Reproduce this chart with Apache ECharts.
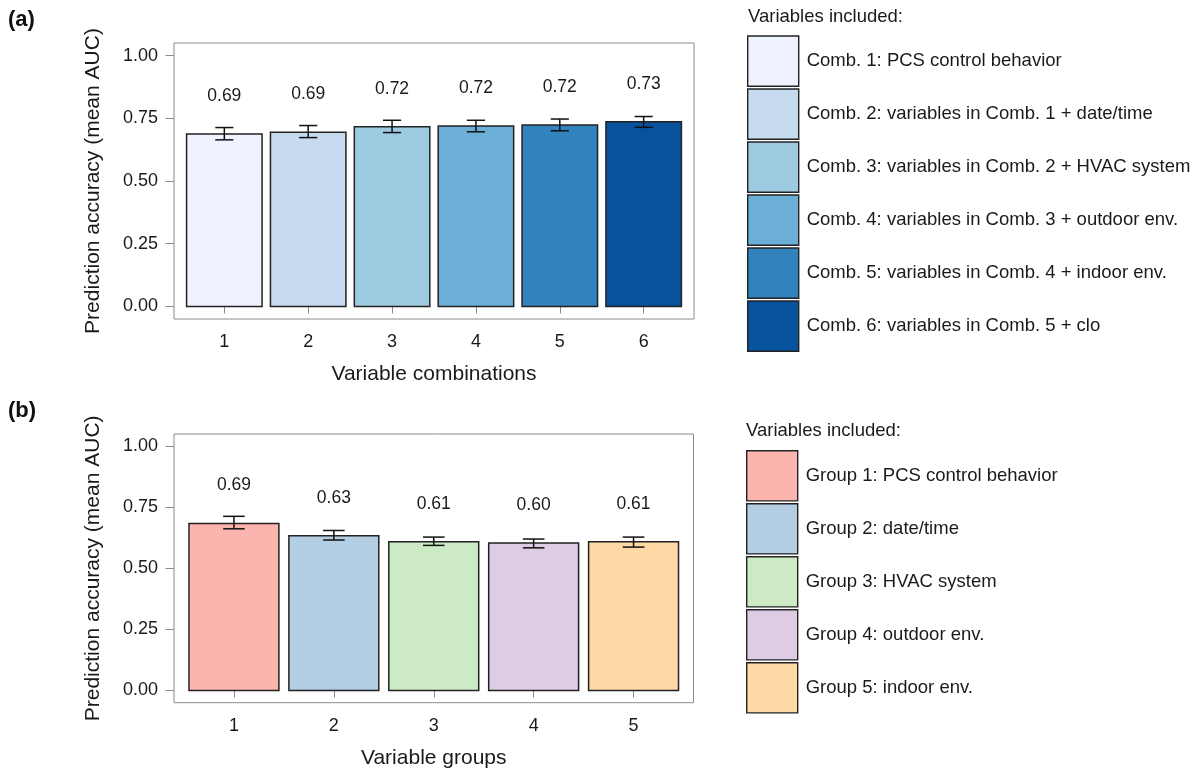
<!DOCTYPE html>
<html><head><meta charset="utf-8">
<script src="https://cdn.jsdelivr.net/npm/echarts@6/dist/echarts.min.js"></script>
<style>html,body{margin:0;padding:0;background:#fff}#c{width:1202px;height:772px}</style>
</head><body><div id="c"></div>
<script>
const FONT = 'Liberation Sans, Arial, Helvetica, sans-serif';
const TXT = '#1a1a1a';

// Panel (a): variable combinations
const catsA = [1, 2, 3, 4, 5, 6];
const meanA = [0.687, 0.694, 0.716, 0.719, 0.723, 0.736];
const lowA  = [0.664, 0.673, 0.693, 0.696, 0.700, 0.714];
const highA = [0.713, 0.721, 0.742, 0.742, 0.747, 0.757];
const labelsA = ['0.69', '0.69', '0.72', '0.72', '0.72', '0.73'];
const namesA = [
  'Comb. 1: PCS control behavior',
  'Comb. 2: variables in Comb. 1 + date/time',
  'Comb. 3: variables in Comb. 2 + HVAC system',
  'Comb. 4: variables in Comb. 3 + outdoor env.',
  'Comb. 5: variables in Comb. 4 + indoor env.',
  'Comb. 6: variables in Comb. 5 + clo'
];
const colorsA = ['#EFF3FF', '#C6DBEF', '#9ECAE1', '#6BAED6', '#3182BD', '#08519C'];

// Panel (b): variable groups
const catsB = [1, 2, 3, 4, 5];
const meanB = [0.684, 0.633, 0.609, 0.604, 0.609];
const lowB  = [0.662, 0.616, 0.594, 0.584, 0.587];
const highB = [0.713, 0.655, 0.628, 0.620, 0.628];
const labelsB = ['0.69', '0.63', '0.61', '0.60', '0.61'];
const namesB = [
  'Group 1: PCS control behavior',
  'Group 2: date/time',
  'Group 3: HVAC system',
  'Group 4: outdoor env.',
  'Group 5: indoor env.'
];
const colorsB = ['#FBB4AE', '#B3CDE3', '#CCEBC5', '#DECBE4', '#FED9A6'];

const yTicks = [0, 0.25, 0.5, 0.75, 1];

const BAR_HALF = 0.45;   // bar width 0.9 category units
const CAP_HALF = 0.108;  // error-bar cap half width
const LABEL_PX = 38;     // label centre above bar top
const LW = 1.5;

function makeSeries(cats, means, lows, highs, labels, names, colors, axisIdx) {
  return cats.map((c, i) => ({
    name: names[i],
    type: 'custom',
    xAxisIndex: axisIdx,
    yAxisIndex: axisIdx,
    itemStyle: { color: colors[i] },
    data: [[c, means[i], lows[i], highs[i]]],
    encode: { x: 0, y: [1, 2, 3] },
    silent: true,
    renderItem: function (params, api) {
      const x = api.value(0), m = api.value(1), lo = api.value(2), hi = api.value(3);
      const tl = api.coord([x - BAR_HALF, m]);
      const br = api.coord([x + BAR_HALF, 0]);
      const cl = api.coord([x - CAP_HALF, hi]);
      const cr = api.coord([x + CAP_HALF, lo]);
      const mid = api.coord([x, hi]);
      const loP = api.coord([x, lo]);
      const col = api.visual('color');
      return {
        type: 'group',
        children: [
          { type: 'rect', shape: { x: tl[0], y: tl[1], width: br[0] - tl[0], height: br[1] - tl[1] },
            style: { fill: col, stroke: '#222', lineWidth: LW } },
          { type: 'line', shape: { x1: mid[0], y1: mid[1], x2: mid[0], y2: loP[1] },
            style: { stroke: '#111', lineWidth: LW } },
          { type: 'line', shape: { x1: cl[0], y1: mid[1], x2: cr[0], y2: mid[1] },
            style: { stroke: '#111', lineWidth: LW } },
          { type: 'line', shape: { x1: cl[0], y1: loP[1], x2: cr[0], y2: loP[1] },
            style: { stroke: '#111', lineWidth: LW } },
          { type: 'text', style: { text: labels[i], x: mid[0], y: tl[1] - LABEL_PX,
            align: 'center', verticalAlign: 'middle', fill: TXT,
            font: '17.5px ' + FONT } }
        ]
      };
    }
  }));
}

function xAxisCfg(gridIdx, n, name) {
  const ticks = [];
  for (let k = 1; k <= n; k++) ticks.push(k);
  return {
    type: 'value', gridIndex: gridIdx, min: 0.4, max: n + 0.6,
    name: name, nameLocation: 'middle', nameGap: 45,
    nameTextStyle: { fontSize: 21, color: TXT, fontFamily: FONT },
    axisLine: { show: false },
    axisTick: { show: true, customValues: ticks, length: 7, lineStyle: { color: '#8a8a8a', width: 1 } },
    axisLabel: { customValues: ticks, margin: 14, fontSize: 18, color: TXT, fontFamily: FONT },
    splitLine: { show: false }
  };
}
function yAxisCfg(gridIdx) {
  return {
    type: 'value', gridIndex: gridIdx, min: -0.05, max: 1.05,
    name: 'Prediction accuracy (mean AUC)', nameLocation: 'middle', nameGap: 70, nameRotate: 90,
    nameTextStyle: { fontSize: 21, color: TXT, fontFamily: FONT },
    axisLine: { show: false },
    axisTick: { show: true, customValues: yTicks, length: 8.5, lineStyle: { color: '#8a8a8a', width: 1 } },
    axisLabel: { customValues: yTicks, margin: 16, fontSize: 18, color: TXT, fontFamily: FONT,
      formatter: v => Number(v).toFixed(2) },
    splitLine: { show: false }
  };
}

function legendCfg(names, left, top) {
  return {
    data: names, orient: 'vertical', left: left, top: top,
    icon: 'rect', itemWidth: 51, itemHeight: 50.2, itemGap: 1.4,
    selectedMode: false, padding: 0,
    itemStyle: { borderColor: '#222', borderWidth: 1.4 },
    textStyle: { fontSize: 18.5, color: TXT, fontFamily: FONT, padding: [7, 0, 0, 3] }
  };
}

const option = {
  backgroundColor: '#fff',
  animation: false,
  textStyle: { fontFamily: FONT },
  grid: [
    { left: 174, top: 43, width: 520, height: 276, show: true, borderColor: '#8a8a8a', borderWidth: 1, backgroundColor: 'transparent' },
    { left: 174, top: 434, width: 519.5, height: 268.7, show: true, borderColor: '#8a8a8a', borderWidth: 1, backgroundColor: 'transparent' }
  ],
  xAxis: [xAxisCfg(0, catsA.length, 'Variable combinations'), xAxisCfg(1, catsB.length, 'Variable groups')],
  yAxis: [yAxisCfg(0), yAxisCfg(1)],
  legend: [legendCfg(namesA, 747, 35.3), legendCfg(namesB, 746, 450)],
  graphic: [
    { type: 'text', left: 8, top: 9, style: { text: '(a)', font: 'bold 22px ' + FONT, fill: '#111' } },
    { type: 'text', left: 8, top: 400, style: { text: '(b)', font: 'bold 22px ' + FONT, fill: '#111' } },
    { type: 'text', left: 748, top: 7, style: { text: 'Variables included:', font: '18.5px ' + FONT, fill: TXT } },
    { type: 'text', left: 746, top: 421, style: { text: 'Variables included:', font: '18.5px ' + FONT, fill: TXT } }
  ],
  series: [].concat(
    makeSeries(catsA, meanA, lowA, highA, labelsA, namesA, colorsA, 0),
    makeSeries(catsB, meanB, lowB, highB, labelsB, namesB, colorsB, 1)
  )
};
const chart = echarts.init(document.getElementById('c'));
chart.setOption(option);
</script>
</body></html>
